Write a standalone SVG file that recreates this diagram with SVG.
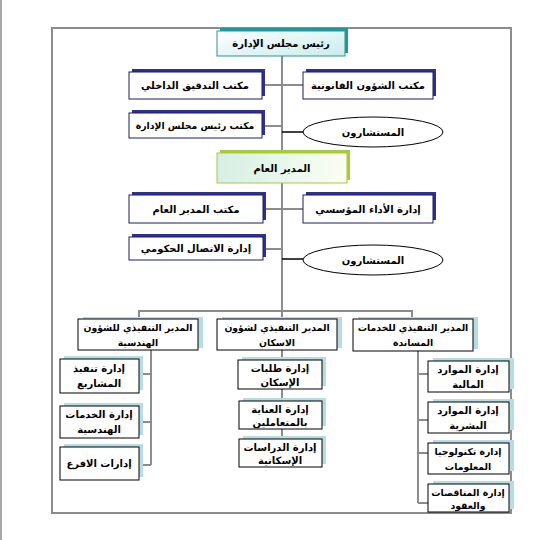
<svg xmlns="http://www.w3.org/2000/svg" width="555" height="540" viewBox="0 0 555 540">
<style>
  text { font-family: "DejaVu Sans", "Liberation Sans", sans-serif; font-size: 10px; font-weight: bold; fill: #000; text-anchor: middle; }
  text.sm { font-size: 9.3px; }
  .conn { stroke: #8c8c8c; stroke-width: 2; fill: none; }
  .blk { stroke: #000; stroke-width: 1.5; fill: none; }
  .nshadow { fill: #2e3192; }
  .nbox { fill: #fff; stroke: #1c1c5c; stroke-width: 1; }
  .bshadow { fill: #b8dce4; }
  .bbox { fill: #fff; stroke: #000; stroke-width: 1; }
  .ell { fill: #fff; stroke: #000; stroke-width: 1; }
</style>
<defs>
  <linearGradient id="gTeal" x1="0" y1="0" x2="1" y2="1">
    <stop offset="0" stop-color="#ffffff"/>
    <stop offset="1" stop-color="#c8ecec"/>
  </linearGradient>
  <linearGradient id="gGreen" x1="0" y1="0" x2="1" y2="0">
    <stop offset="0" stop-color="#d6efe4"/>
    <stop offset="1" stop-color="#fbfff2"/>
  </linearGradient>
</defs>
<rect x="0" y="0" width="555" height="540" fill="#fff"/>
<line x1="1" y1="0" x2="1" y2="540" stroke="#a8a8a8" stroke-width="2"/>
<rect x="52" y="28" width="459" height="485" fill="none" stroke="#8c8c8c" stroke-width="2"/>

<g id="connectors">
  <line class="conn" x1="282" y1="56" x2="282" y2="311"/>
  <line class="conn" x1="262" y1="85" x2="303" y2="85"/>
  <line class="conn" x1="262" y1="126" x2="282" y2="126"/>
  <line class="blk" x1="282" y1="132" x2="303" y2="132"/>
  <line class="conn" x1="263" y1="209" x2="303" y2="209"/>
  <line class="conn" x1="263" y1="249" x2="282" y2="249"/>
  <line class="blk" x1="282" y1="259" x2="303" y2="259"/>
  <polyline class="conn" points="139,319 139,311 412,311 412,319"/>
  <line class="conn" x1="282" y1="311" x2="282" y2="319"/>
  <line class="conn" x1="151" y1="350" x2="151" y2="465"/>
  <line class="conn" x1="143" y1="374" x2="151" y2="374"/>
  <line class="conn" x1="143" y1="422" x2="151" y2="422"/>
  <line class="conn" x1="143" y1="465" x2="151" y2="465"/>
  <line class="conn" x1="282" y1="350" x2="282" y2="439"/>
  <line class="conn" x1="418" y1="351" x2="418" y2="503"/>
  <line class="conn" x1="418" y1="374" x2="428" y2="374"/>
  <line class="conn" x1="418" y1="420" x2="428" y2="420"/>
  <line class="conn" x1="418" y1="453" x2="428" y2="453"/>
  <line class="conn" x1="418" y1="503" x2="428" y2="503"/>
</g>

<g id="chairman">
  <rect x="220" y="28" width="128" height="25" fill="#1a9a9a"/>
  <rect x="217" y="31" width="128" height="25" fill="url(#gTeal)" stroke="#3a8f8f" stroke-width="1"/>
  <text x="281" y="47">رئيس مجلس الإدارة</text>
</g>
<g id="audit">
  <rect class="nshadow" x="132" y="69" width="133" height="27"/>
  <rect class="nbox" x="129" y="72" width="133" height="27"/>
  <text x="195" y="89">مكتب التدقيق الداخلي</text>
</g>
<g id="legal">
  <rect class="nshadow" x="306" y="69" width="130" height="27"/>
  <rect class="nbox" x="303" y="72" width="130" height="27"/>
  <text x="368" y="89">مكتب الشؤون القانونية</text>
</g>
<g id="chairman-office">
  <rect class="nshadow" x="132" y="110" width="133" height="25"/>
  <rect class="nbox" x="129" y="113" width="133" height="25"/>
  <text class="sm" x="195" y="129">مكتب رئيس مجلس الإدارة</text>
</g>
<g id="advisors1">
  <ellipse class="ell" cx="373" cy="132" rx="70" ry="15"/>
  <text x="373" y="136">المستشارون</text>
</g>
<g id="gm">
  <rect x="220" y="150" width="130" height="30" fill="#a6cc3a"/>
  <rect x="217" y="153" width="130" height="30" fill="url(#gGreen)" stroke="#a8c84a" stroke-width="1"/>
  <text x="282" y="172">المدير العام</text>
</g>
<g id="gm-office">
  <rect class="nshadow" x="132" y="192" width="134" height="28"/>
  <rect class="nbox" x="129" y="195" width="134" height="28"/>
  <text x="196" y="213">مكتب المدير العام</text>
</g>
<g id="performance">
  <rect class="nshadow" x="306" y="192" width="130" height="28"/>
  <rect class="nbox" x="303" y="195" width="130" height="28"/>
  <text x="368" y="213">إدارة الأداء المؤسسي</text>
</g>
<g id="communication">
  <rect class="nshadow" x="132" y="234" width="134" height="23"/>
  <rect class="nbox" x="129" y="237" width="134" height="23"/>
  <text x="196" y="252">إدارة الاتصال الحكومي</text>
</g>
<g id="advisors2">
  <ellipse class="ell" cx="373" cy="260" rx="70" ry="15"/>
  <text x="373" y="264">المستشارون</text>
</g>

<g id="exec-eng">
  <rect class="bshadow" x="83" y="317" width="120" height="31"/>
  <rect class="bbox" x="78" y="319" width="120" height="31"/>
  <text class="sm" x="138" y="331">المدير التنفيذي للشؤون</text>
  <text class="sm" x="138" y="346">الهندسية</text>
</g>
<g id="exec-housing">
  <rect class="bshadow" x="222" y="317" width="120" height="31"/>
  <rect class="bbox" x="217" y="319" width="120" height="31"/>
  <text class="sm" x="277" y="331">المدير التنفيذي لشؤون</text>
  <text class="sm" x="277" y="346">الاسكان</text>
</g>
<g id="exec-support">
  <rect class="bshadow" x="358" y="317" width="120" height="32"/>
  <rect class="bbox" x="353" y="319" width="120" height="32"/>
  <text class="sm" x="413" y="331">المدير التنفيذي للخدمات</text>
  <text class="sm" x="413" y="346">المساندة</text>
</g>

<g id="projects">
  <rect class="bshadow" x="64" y="356" width="79" height="34"/>
  <rect class="bbox" x="60" y="359" width="79" height="34"/>
  <text x="99" y="372">إدارة تنفيذ</text>
  <text x="99" y="387">المشاريع</text>
</g>
<g id="eng-services">
  <rect class="bshadow" x="64" y="403" width="79" height="32"/>
  <rect class="bbox" x="60" y="406" width="79" height="32"/>
  <text x="99" y="418">إدارة الخدمات</text>
  <text x="99" y="433">الهندسية</text>
</g>
<g id="branches">
  <rect class="bshadow" x="64" y="444" width="79" height="33"/>
  <rect class="bbox" x="60" y="447" width="79" height="33"/>
  <text x="99" y="467">إدارات الافرع</text>
</g>

<g id="housing-requests">
  <rect class="bshadow" x="242" y="357" width="84" height="29"/>
  <rect class="bbox" x="238" y="360" width="84" height="29"/>
  <text x="280" y="372">إدارة طلبات</text>
  <text x="280" y="386">الإسكان</text>
</g>
<g id="customer-care">
  <rect class="bshadow" x="243" y="398" width="83" height="28"/>
  <rect class="bbox" x="239" y="401" width="83" height="28"/>
  <text x="280" y="413">إدارة العناية</text>
  <text x="280" y="426">بالمتعاملين</text>
</g>
<g id="housing-studies">
  <rect class="bshadow" x="243" y="436" width="83" height="28"/>
  <rect class="bbox" x="239" y="439" width="83" height="28"/>
  <text x="280" y="451">إدارة الدراسات</text>
  <text x="280" y="464">الإسكانية</text>
</g>

<g id="finance">
  <rect class="bshadow" x="433" y="358" width="81" height="31"/>
  <rect class="bbox" x="428" y="361" width="81" height="31"/>
  <text x="468" y="373">إدارة الموارد</text>
  <text x="468" y="388">المالية</text>
</g>
<g id="hr">
  <rect class="bshadow" x="433" y="399" width="81" height="31"/>
  <rect class="bbox" x="428" y="402" width="81" height="31"/>
  <text x="468" y="414">إدارة الموارد</text>
  <text x="468" y="429">البشرية</text>
</g>
<g id="it">
  <rect class="bshadow" x="433" y="440" width="81" height="31"/>
  <rect class="bbox" x="428" y="443" width="81" height="31"/>
  <text class="sm" x="468" y="455">إدارة تكنولوجيا</text>
  <text class="sm" x="468" y="470">المعلومات</text>
</g>
<g id="tenders">
  <rect class="bshadow" x="433" y="481" width="81" height="28"/>
  <rect class="bbox" x="428" y="484" width="81" height="28"/>
  <text class="sm" x="468" y="496">إدارة المناقصات</text>
  <text class="sm" x="468" y="509">والعقود</text>
</g>
</svg>
